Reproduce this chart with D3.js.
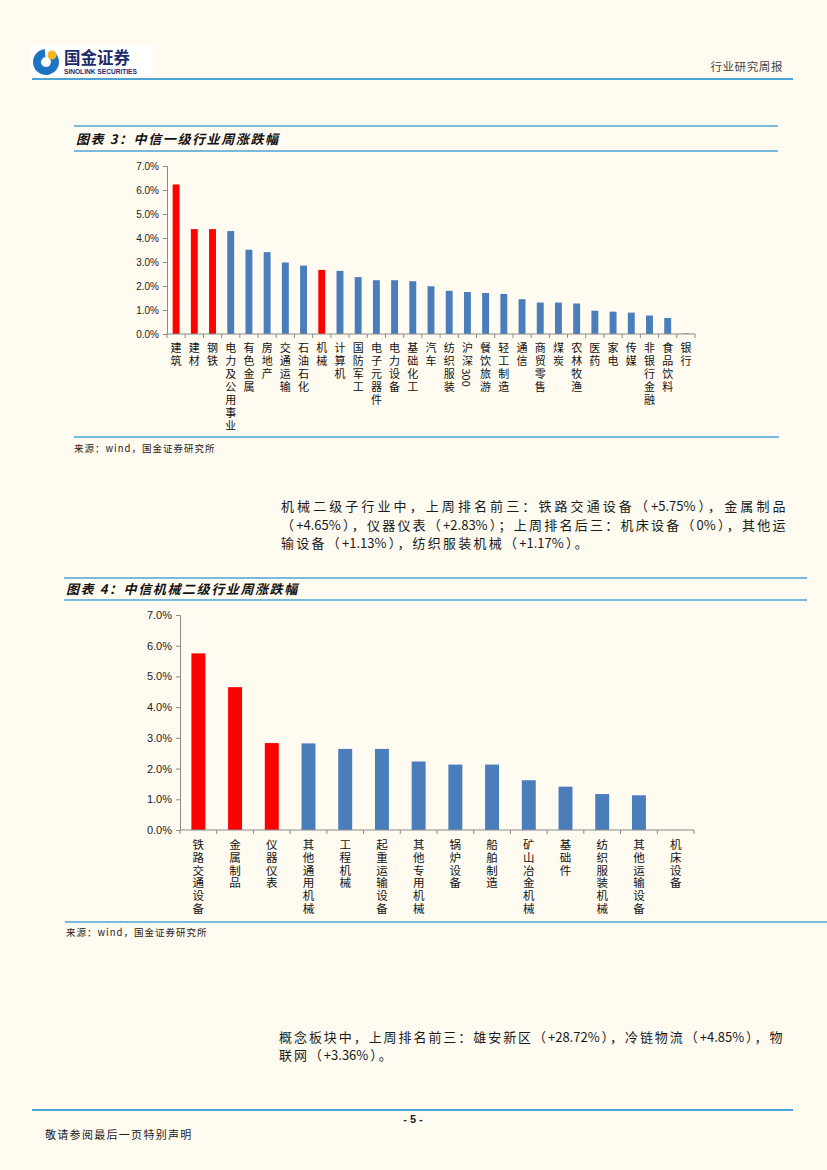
<!DOCTYPE html>
<html>
<head>
<meta charset="utf-8">
<script src="https://cdn.jsdelivr.net/npm/d3@7"></script>
<style>
  html, body { margin: 0; padding: 0; background: #fffbf1; }
  svg { display: block; }
</style>
</head>
<body>
<svg id="page"></svg>
<script>
// Chart 3: CITIC level-1 industries weekly change (%)
const industries = ["建筑", "建材", "钢铁", "电力及公用事业", "有色金属", "房地产", "交通运输", "石油石化",
  "机械", "计算机", "国防军工", "电子元器件", "电力设备", "基础化工", "汽车", "纺织服装", "沪深300",
  "餐饮旅游", "轻工制造", "通信", "商贸零售", "煤炭", "农林牧渔", "医药", "家电", "传媒", "非银行金融",
  "食品饮料", "银行"];
const industryValues = [6.23, 4.37, 4.37, 4.29, 3.51, 3.41, 2.98, 2.85, 2.67, 2.63, 2.37, 2.24, 2.24,
  2.20, 1.99, 1.80, 1.75, 1.71, 1.67, 1.45, 1.31, 1.31, 1.27, 0.97, 0.93, 0.89, 0.77, 0.67, 0.02];
const industryHighlight = ["建筑", "建材", "钢铁", "机械"];

// Chart 4: CITIC machinery level-2 weekly change (%)
const subIndustries = ["铁路交通设备", "金属制品", "仪器仪表", "其他通用机械", "工程机械", "起重运输设备",
  "其他专用机械", "锅炉设备", "船舶制造", "矿山冶金机械", "基础件", "纺织服装机械", "其他运输设备", "机床设备"];
const subValues = [5.75, 4.65, 2.83, 2.82, 2.64, 2.64, 2.23, 2.13, 2.13, 1.62, 1.41, 1.17, 1.13, 0];
const subHighlight = ["铁路交通设备", "金属制品", "仪器仪表"];

const yTicks = [0, 1, 2, 3, 4, 5, 6, 7];

const para1 = [
  "机械二级子行业中，上周排名前三：铁路交通设备（+5.75%），金属制品",
  "（+4.65%），仪器仪表（+2.83%）；上周排名后三：机床设备（0%），其他运",
  "输设备（+1.13%），纺织服装机械（+1.17%）。"
];
const para2 = [
  "概念板块中，上周排名前三：雄安新区（+28.72%），冷链物流（+4.85%），物",
  "联网（+3.36%）。"
];

const W = 827, H = 1170;
const blue = "#4a7ebb", red = "#ff0000", rule = "#4ba3d6", axisGrey = "#8a8a8a";
const cjk = "'Noto Sans CJK SC', 'Noto Sans', sans-serif";
const latin = "'Liberation Sans', Arial, sans-serif";

const svg = d3.select("#page").attr("width", W).attr("height", H);
svg.append("rect").attr("width", W).attr("height", H).attr("fill", "#fffbf1");

// ---- header ----
const logo = svg.append("g");
logo.append("rect").attr("x", 30).attr("y", 45).attr("width", 122).attr("height", 31).attr("fill", "#fff");
logo.append("path")
  .attr("d", d3.arc().innerRadius(5).outerRadius(13).startAngle(0.6).endAngle(2 * Math.PI - 0.1)())
  .attr("transform", "translate(46,62)")
  .attr("fill", "#1b73c2");
logo.append("circle").attr("cx", 52).attr("cy", 55).attr("r", 4.5).attr("fill", "#f6b81c");
logo.append("text").attr("x", 64).attr("y", 64).attr("font-family", cjk).attr("font-weight", 700)
  .attr("font-size", 16.5).attr("fill", "#1d2a6b").text("国金证券");
logo.append("text").attr("x", 64).attr("y", 74).attr("font-family", latin).attr("font-weight", 700)
  .attr("font-size", 6.6).attr("fill", "#1d2a6b").text("SINOLINK SECURITIES");

svg.append("text").attr("x", 783).attr("y", 71).attr("text-anchor", "end")
  .attr("font-family", cjk).attr("font-size", 11.5).attr("letter-spacing", 0.6)
  .attr("fill", "#444").text("行业研究周报");

function hline(x1, x2, y, w) {
  svg.append("line").attr("x1", x1).attr("x2", x2).attr("y1", y).attr("y2", y)
    .attr("stroke", rule).attr("stroke-width", w || 1.5);
}
hline(32, 793, 79, 2);

// ---- chart title blocks ----
function titleBlock(x1, x2, yTop, yBot, label) {
  hline(x1, x2, yTop);
  hline(x1, x2, yBot);
  svg.append("text").attr("x", x1 + 2).attr("y", (yTop + yBot) / 2 + 5)
    .attr("font-family", cjk).attr("font-weight", 700).attr("font-style", "italic")
    .attr("font-size", 13).attr("letter-spacing", 1.6).attr("fill", "#111").text(label);
}

function source(x, y) {
  svg.append("text").attr("x", x).attr("y", y).attr("font-family", cjk)
    .attr("font-size", 9.5).attr("letter-spacing", 1).attr("fill", "#222")
    .text("来源：wind，国金证券研究所");
}

function barChart(opts) {
  const { cats, vals, hi, x0, x1, yBase, yTop, tickSize, labelSize, labelStep, labelGap } = opts;
  const x = d3.scaleBand().domain(cats).range([x0, x1]).paddingInner(0.62).paddingOuter(0.31);
  const y = d3.scaleLinear().domain([0, 7]).range([yBase, yTop]);
  const g = svg.append("g");

  g.selectAll("rect.bar").data(cats).enter().append("rect")
    .attr("class", "bar")
    .attr("x", (d) => x(d))
    .attr("width", x.bandwidth())
    .attr("y", (d, i) => y(vals[i]))
    .attr("height", (d, i) => yBase - y(vals[i]))
    .attr("fill", (d) => (hi.includes(d) ? red : blue));

  // y axis
  const yAxis = g.append("g").attr("transform", `translate(${x0},0)`)
    .call(d3.axisLeft(y).tickValues(yTicks).tickSize(4).tickPadding(4)
      .tickFormat((d) => d3.format(".1f")(d) + "%"));
  yAxis.selectAll("text").attr("font-family", latin).attr("font-size", tickSize).attr("fill", "#222");
  yAxis.selectAll("line, path").attr("stroke", axisGrey);

  // x axis with ticks at band edges
  const edges = cats.map((d) => x(d) - x.step() * 0.31);
  edges.push(x1);
  g.append("line").attr("x1", x0).attr("x2", x1).attr("y1", yBase).attr("y2", yBase)
    .attr("stroke", axisGrey);
  g.selectAll("line.xt").data(edges).enter().append("line").attr("class", "xt")
    .attr("x1", (d) => d).attr("x2", (d) => d).attr("y1", yBase).attr("y2", yBase + 4)
    .attr("stroke", axisGrey);

  // vertical category labels, one text each (digits turn sideways like the original)
  const labels = g.selectAll("text.cat").data(cats).enter().append("text")
    .attr("class", "cat")
    .attr("x", (d) => x(d) + x.bandwidth() / 2)
    .attr("y", yBase + labelGap - labelSize / 2)
    .style("writing-mode", "vertical-rl")
    .style("text-orientation", "mixed")
    .attr("font-family", cjk).attr("font-size", labelSize).attr("fill", "#111");
  labels.selectAll("tspan").data((d) => d.match(/\d+|\D+/g)).enter().append("tspan")
    .attr("letter-spacing", (t) => (/^\d+$/.test(t) ? 0 : labelStep - labelSize))
    .text((t) => t);
}

// ---- chart 3 ----
titleBlock(74, 778, 126, 151, "图表 3：中信一级行业周涨跌幅");
barChart({
  cats: industries, vals: industryValues, hi: industryHighlight,
  x0: 167, x1: 695, yBase: 334, yTop: 166,
  tickSize: 10, labelSize: 11, labelStep: 13, labelGap: 14
});
hline(74, 779, 437);
source(74, 452);

// ---- paragraphs: CJK glyphs get the extra spacing, latin runs stay tight ----
const isCJK = (ch) => /[\u3000-\u9fff\uff00-\uffef]/.test(ch);

function paragraph(lines, x, x2, y0, lh) {
  const size = 13;
  const probe = svg.append("text").attr("font-family", cjk).attr("font-size", size);
  let perGap = null;
  lines.forEach((ln, li) => {
    probe.text(ln);
    const natural = probe.node().getComputedTextLength();
    const chars = Array.from(ln);
    const weights = chars.map((c, i) => (i > 0 && (isCJK(c) || isCJK(chars[i - 1])) ? 1 : 0));
    const nGaps = d3.sum(weights);
    if (li < lines.length - 1) {
      perGap = (x2 - x - natural) / nGaps;
    }
    const gap = perGap == null ? 2 : perGap;
    const t = svg.append("text").attr("x", x).attr("y", y0 + li * lh)
      .attr("font-family", cjk).attr("font-size", size).attr("fill", "#1a1a1a");
    t.selectAll("tspan").data(chars).enter().append("tspan")
      .attr("dx", (c, i) => weights[i] * gap)
      .text((c) => c);
  });
  probe.remove();
}
paragraph(para1, 281, 785, 511, 18.5);

// ---- chart 4 ----
titleBlock(64, 807, 578, 600, "图表 4：中信机械二级行业周涨跌幅");
barChart({
  cats: subIndustries, vals: subValues, hi: subHighlight,
  x0: 180, x1: 694, yBase: 830, yTop: 615,
  tickSize: 11, labelSize: 11.5, labelStep: 12.7, labelGap: 15
});
hline(65, 827, 922);
source(66, 936);

paragraph(para2, 279, 782, 1042, 18);

// ---- footer ----
hline(32, 793, 1110, 2);
svg.append("text").attr("x", 413).attr("y", 1123).attr("text-anchor", "middle")
  .attr("font-family", latin).attr("font-weight", 700).attr("font-size", 11).attr("fill", "#222")
  .text("- 5 -");
svg.append("text").attr("x", 45).attr("y", 1139).attr("font-family", cjk)
  .attr("font-size", 11).attr("letter-spacing", 1.3).attr("fill", "#222").text("敬请参阅最后一页特别声明");
</script>
</body>
</html>
